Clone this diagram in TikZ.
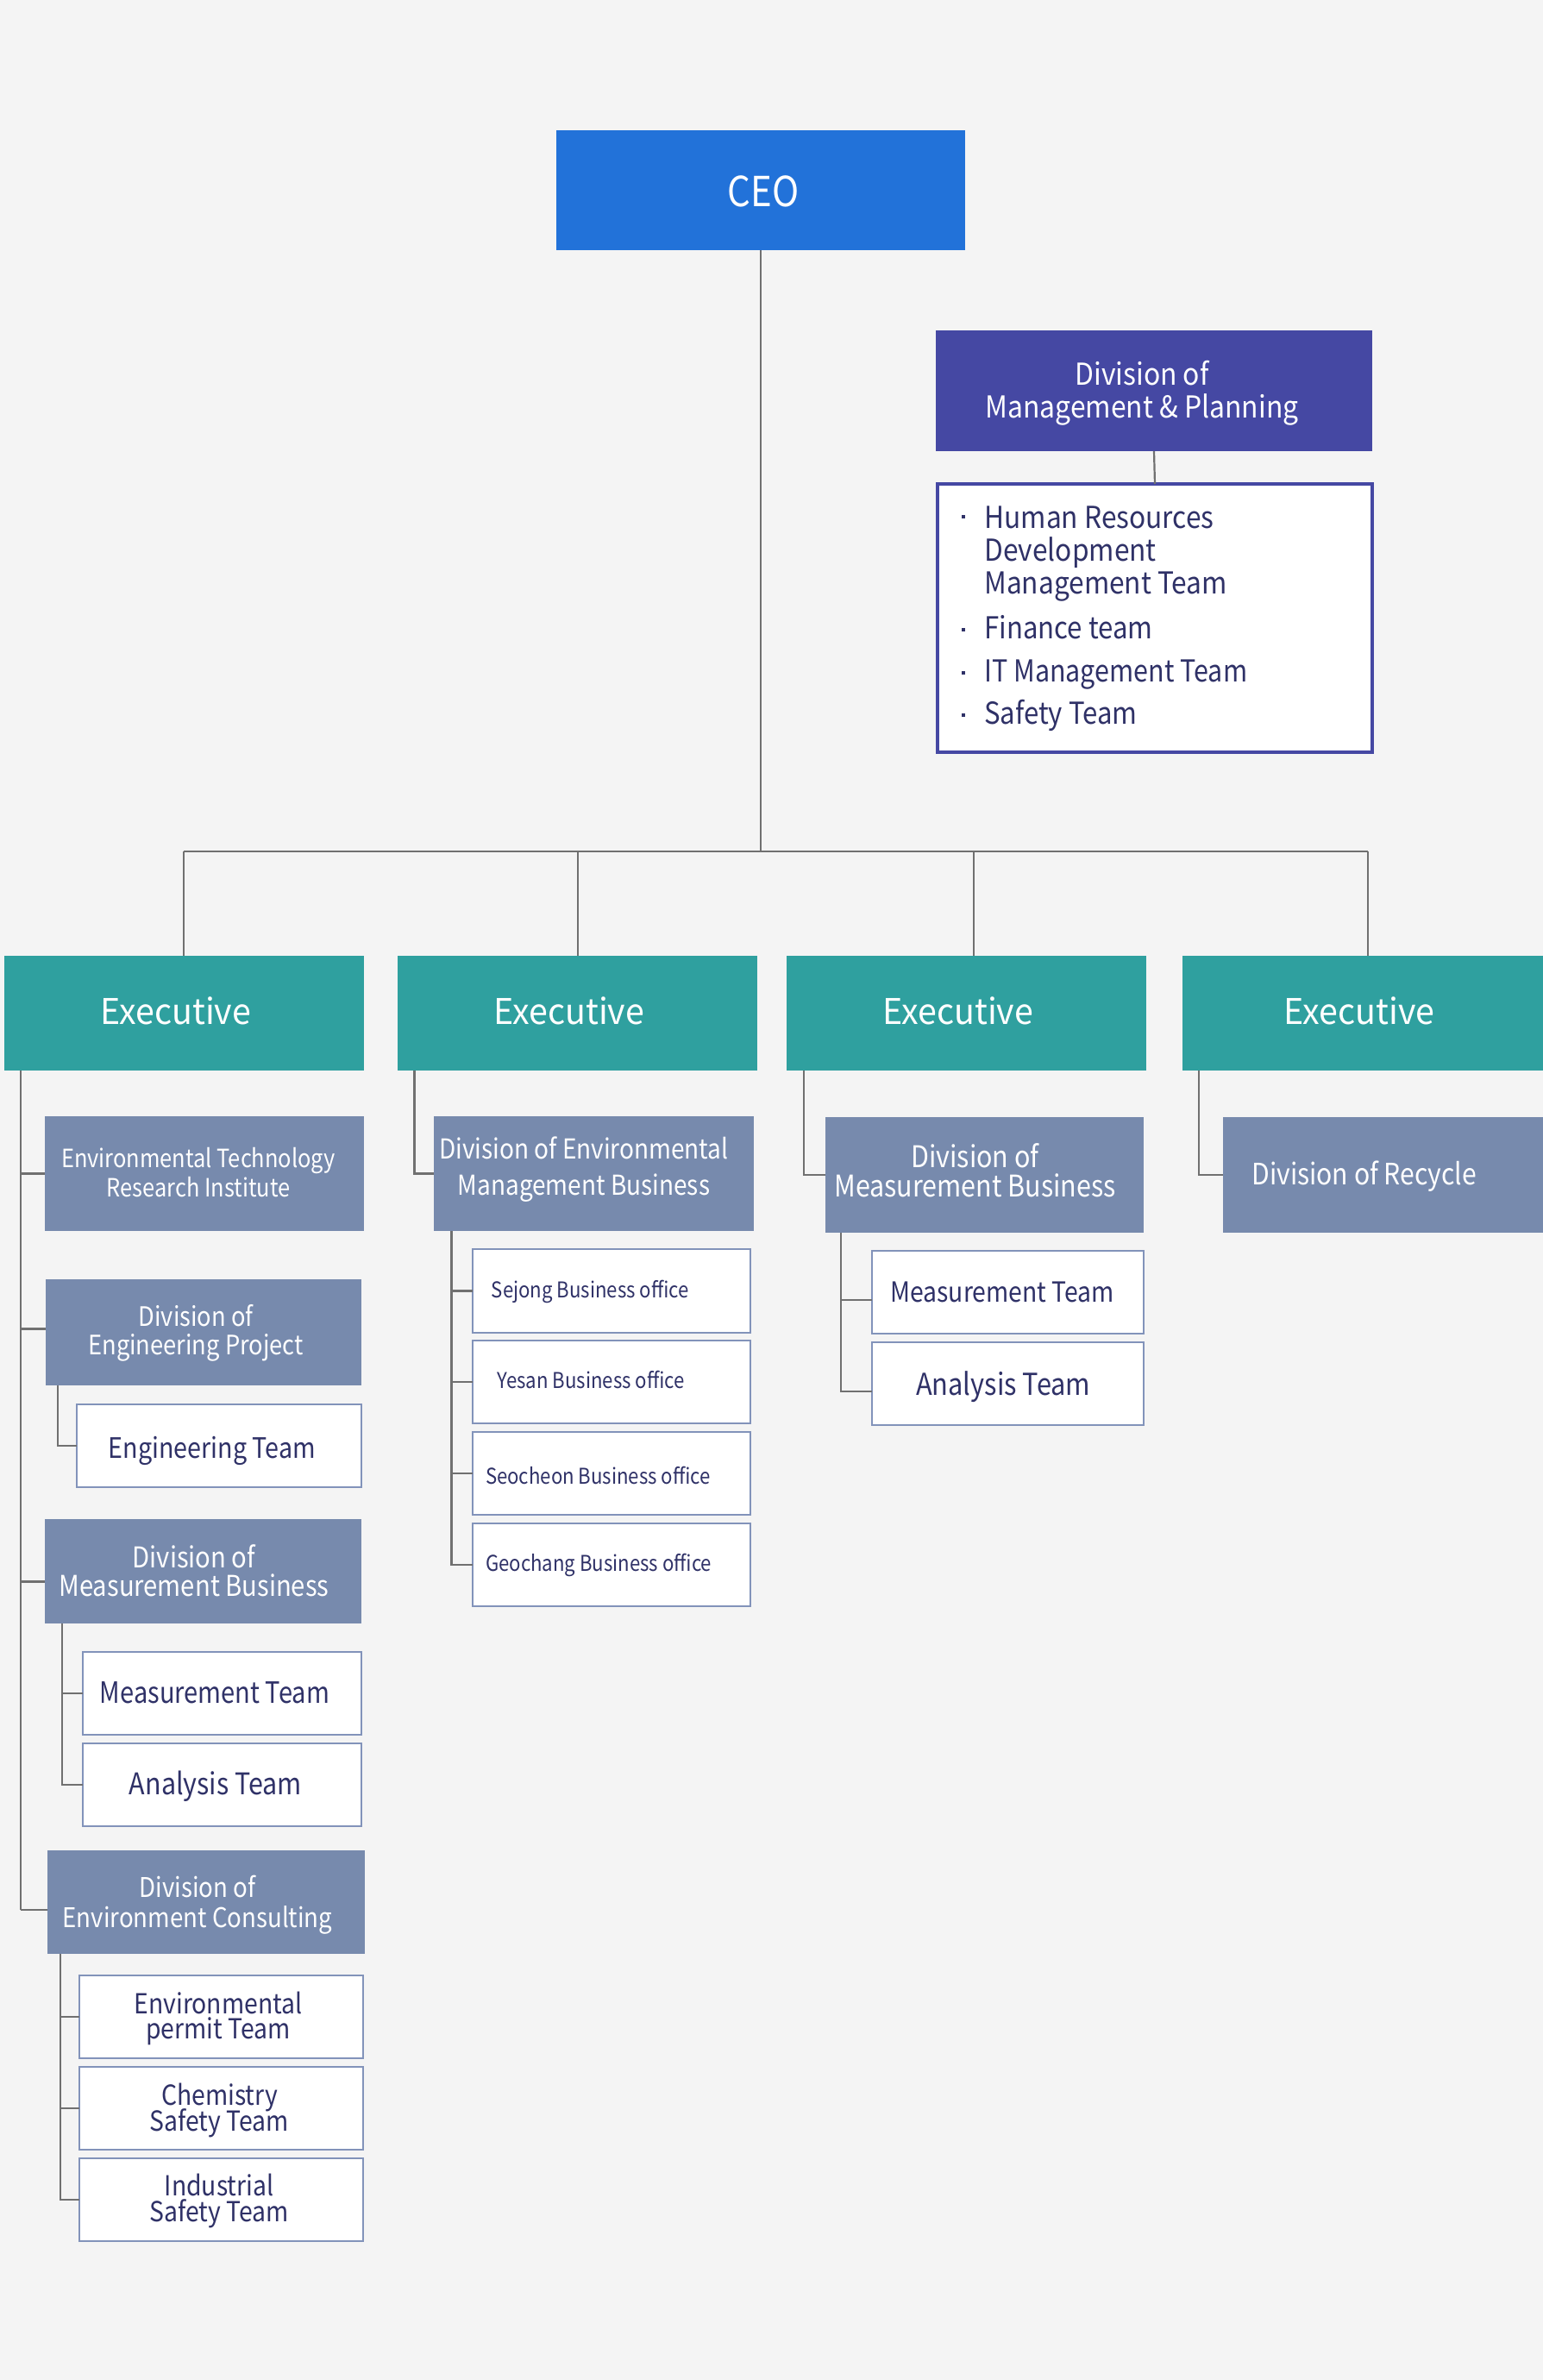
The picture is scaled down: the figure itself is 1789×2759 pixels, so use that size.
\documentclass[tikz,border=0pt]{standalone}
\usepackage{fontspec}
\setmainfont{Noto Sans CJK KR}
\usetikzlibrary{fit}
\definecolor{bgC}{HTML}{F4F4F4}
\definecolor{ceoC}{HTML}{2272D9}
\definecolor{mgmtC}{HTML}{4548A3}
\definecolor{execC}{HTML}{2FA09F}
\definecolor{divC}{HTML}{778AAD}
\definecolor{subC}{HTML}{8293BA}
\definecolor{navyC}{HTML}{2F3167}
\definecolor{lineC}{HTML}{707070}
% style, name, x, y, size (pt), horizontal stretch, text
\newcommand{\tl}[7]{\node[#1] (#2) at (#3,#4) {\fontsize{#5}{#5}\selectfont\addfontfeature{FakeStretch=#6}#7};}
\begin{document}
\begin{tikzpicture}[x=0.5pt,y=-0.5pt,
  box/.style={inner sep=0pt, outer sep=0pt},
  ceobox/.style={box, fill=ceoC},
  mgmtbox/.style={box, fill=mgmtC},
  listbox/.style={box, fill=white, draw=mgmtC, line width=1.9pt},
  execbox/.style={box, fill=execC},
  divbox/.style={box, fill=divC},
  subbox/.style={box, fill=white, draw=subC, line width=1pt},
  conn/.style={draw=lineC, line width=1.1pt},
  txt/.style={inner sep=0pt, anchor=base},
  txtw/.style={inner sep=0pt, anchor=base west},
  wt/.style={txt, text=white},
  wtw/.style={txtw, text=white},
  nt/.style={txt, text=navyC},
  ntw/.style={txtw, text=navyC},
]
\fill[bgC] (0,0) rectangle (1789,2759);
\useasboundingbox (0,0) rectangle (1789,2759);

% ---------- boxes ----------
\node[ceobox, fit={(645,151) (1119,290)}] (ceo) {};
\node[mgmtbox, fit={(1085,383) (1591,523)}] (mgmt) {};
\node[listbox, fit={(1087,561) (1591,872)}] (list) {};

\node[execbox, fit={(5,1108) (422,1241)}] (e1) {};
\node[execbox, fit={(461,1108) (878,1241)}] (e2) {};
\node[execbox, fit={(912,1108) (1329,1241)}] (e3) {};
\node[execbox, fit={(1371,1108) (1789,1241)}] (e4) {};

% column 1
\node[divbox, fit={(52,1294) (422,1427)}] (d11) {};
\node[divbox, fit={(53,1483) (419,1606)}] (d12) {};
\node[subbox, fit={(89,1628) (419,1724)}] (s121) {};
\node[divbox, fit={(52,1761) (419,1882)}] (d13) {};
\node[subbox, fit={(96,1915) (419,2011)}] (s131) {};
\node[subbox, fit={(96,2021) (419,2117)}] (s132) {};
\node[divbox, fit={(55,2145) (423,2265)}] (d14) {};
\node[subbox, fit={(92,2290) (421,2386)}] (s141) {};
\node[subbox, fit={(92,2396) (421,2492)}] (s142) {};
\node[subbox, fit={(92,2502) (421,2598)}] (s143) {};

% column 2
\node[divbox, fit={(503,1294) (874,1427)}] (d21) {};
\node[subbox, fit={(548,1448) (870,1545)}] (s211) {};
\node[subbox, fit={(548,1554) (870,1650)}] (s212) {};
\node[subbox, fit={(548,1660) (870,1756)}] (s213) {};
\node[subbox, fit={(548,1766) (870,1862)}] (s214) {};

% column 3
\node[divbox, fit={(957,1295) (1326,1429)}] (d31) {};
\node[subbox, fit={(1011,1450) (1326,1546)}] (s311) {};
\node[subbox, fit={(1011,1556) (1326,1652)}] (s312) {};

% column 4
\node[divbox, fit={(1418,1295) (1789,1429)}] (d41) {};

% ---------- connectors ----------
\coordinate (bus) at (0,987);
\coordinate (b1) at (213,987);
\coordinate (b2) at (670,987);
\coordinate (b3) at (1129,987);
\coordinate (b4) at (1586,987);
\draw[conn] (ceo.south) -- (ceo.south |- bus);
\draw[conn] (b1) -- (b4);
\draw[conn] (b1) -- (b1 |- e1.north);
\draw[conn] (b2) -- (b2 |- e2.north);
\draw[conn] (b3) -- (b3 |- e3.north);
\draw[conn] (b4) -- (b4 |- e4.north);
\draw[conn] (mgmt.south) -- (list.north);

% column 1 trunk
\coordinate (t1) at (24,0);
\coordinate (t1end) at (24,2214);
\draw[conn] (e1.south -| t1) -- (t1end);
\draw[conn] (d11.west) -- (d11.west -| t1);
\draw[conn] ([yshift=2pt]d12.west) -- ([yshift=2pt]d12.west -| t1);
\draw[conn] ([yshift=-6pt]d13.west) -- ([yshift=-6pt]d13.west -| t1);
\draw[conn] ([yshift=-4.5pt]d14.west) -- (t1end);
\coordinate (t12) at (67,0);
\draw[conn] (d12.south -| t12) |- (s121.west);
\coordinate (t13) at (72,0);
\draw[conn] (d13.south -| t13) |- (s132.west);
\draw[conn] (s131.west) -- (s131.west -| t13);
\coordinate (t14) at (70,0);
\draw[conn] (d14.south -| t14) |- (s143.west);
\draw[conn] (s141.west) -- (s141.west -| t14);
\draw[conn] (s142.west) -- (s142.west -| t14);

% column 2
\coordinate (t2) at (480.5,0);
\draw[conn] (e2.south -| t2) |- (d21.west);
\coordinate (t21) at (523.5,0);
\draw[conn] (d21.south -| t21) |- (s214.west);
\draw[conn] (s211.west) -- (s211.west -| t21);
\draw[conn] (s212.west) -- (s212.west -| t21);
\draw[conn] (s213.west) -- (s213.west -| t21);

% column 3
\coordinate (t3) at (932,0);
\draw[conn] (e3.south -| t3) |- (d31.west);
\coordinate (t31) at (975,0);
\draw[conn] (d31.south -| t31) |- ([yshift=-4.5pt]s312.west);
\draw[conn] ([yshift=-4.5pt]s311.west) -- ([yshift=-4.5pt]s311.west -| t31);

% column 4
\coordinate (t4) at (1390,0);
\draw[conn] (e4.south -| t4) |- (d41.west);

% ---------- texts ----------
\tl{wt}{tceo}{885}{239}{24}{0.875}{CEO}
\tl{wt}{te1}{204}{1187}{20.5}{0.96}{Executive}
\tl{wt}{te2}{660}{1187}{20.5}{0.96}{Executive}
\tl{wt}{te3}{1111}{1187}{20.5}{0.96}{Executive}
\tl{wt}{te4}{1576}{1187}{20.5}{0.96}{Executive}

\tl{wt}{tm1}{1324}{446}{17.5}{0.91}{Division of}
\tl{wt}{tm2}{1324}{484}{17.5}{0.91}{Management \& Planning}

\fill[navyC] (1115,597) rectangle (1119,601);
\fill[navyC] (1115,728) rectangle (1119,732);
\fill[navyC] (1115,778) rectangle (1119,782);
\fill[navyC] (1115,827) rectangle (1119,831);
\tl{ntw}{tl1}{1141}{612.5}{17.5}{0.905}{Human Resources}
\tl{ntw}{tl2}{1141}{650}{17.5}{0.905}{Development}
\tl{ntw}{tl3}{1141}{688}{17.5}{0.905}{Management Team}
\tl{ntw}{tl4}{1141}{740}{17.5}{0.89}{Finance team}
\tl{ntw}{tl5}{1141}{790}{17.5}{0.87}{IT Management Team}
\tl{ntw}{tl6}{1141}{839}{17.5}{0.89}{Safety Team}

\tl{wt}{td11a}{230}{1353}{14.6}{0.87}{Environmental Technology}
\tl{wt}{td11b}{230}{1387}{14.6}{0.87}{Research Institute}
\tl{wt}{td12a}{227}{1537}{15.5}{0.88}{Division of}
\tl{wt}{td12b}{227}{1570}{15.5}{0.88}{Engineering Project}
\tl{wt}{td13a}{225}{1817.5}{16.6}{0.88}{Division of}
\tl{wt}{td13b}{225}{1850}{16.6}{0.88}{Measurement Business}
\tl{wt}{td14a}{229}{2199}{15.7}{0.88}{Division of}
\tl{wt}{td14b}{229}{2234}{15.7}{0.88}{Environment Consulting}
\tl{wt}{td21a}{677}{1343}{15.9}{0.88}{Division of Environmental}
\tl{wt}{td21b}{677}{1385}{15.9}{0.88}{Management Business}
\tl{wt}{td31a}{1130.5}{1353.6}{17.3}{0.88}{Division of}
\tl{wt}{td31b}{1130.5}{1387}{17.3}{0.88}{Measurement Business}
\tl{wtw}{td41}{1451}{1373}{17.1}{0.88}{Division of Recycle}

\tl{nt}{ts121}{246}{1690}{16.3}{0.88}{Engineering Team}
\tl{nt}{ts131}{249}{1974}{17}{0.855}{Measurement Team}
\tl{nt}{ts132}{250}{2080}{17.3}{0.88}{Analysis Team}
\tl{nt}{ts141a}{253}{2334}{16}{0.886}{Environmental}
\tl{nt}{ts141b}{253}{2363}{16}{0.886}{permit Team}
\tl{nt}{ts142a}{254.5}{2440}{16}{0.886}{Chemistry}
\tl{nt}{ts142b}{254.5}{2470}{16}{0.886}{Safety Team}
\tl{nt}{ts143a}{254}{2545.4}{16}{0.886}{Industrial}
\tl{nt}{ts143b}{254}{2575}{16}{0.886}{Safety Team}

\tl{ntw}{ts211}{569.5}{1504}{12.6}{0.88}{Sejong Business office}
\tl{ntw}{ts212}{576}{1609.6}{12.6}{0.88}{Yesan Business office}
\tl{ntw}{ts213}{562.6}{1720}{12.6}{0.88}{Seocheon Business office}
\tl{ntw}{ts214}{562.6}{1821}{12.6}{0.88}{Geochang Business office}

\tl{ntw}{ts311}{1032}{1509}{16.1}{0.88}{Measurement Team}
\tl{ntw}{ts312}{1061.6}{1617.7}{17.5}{0.88}{Analysis Team}
\end{tikzpicture}
\end{document}
